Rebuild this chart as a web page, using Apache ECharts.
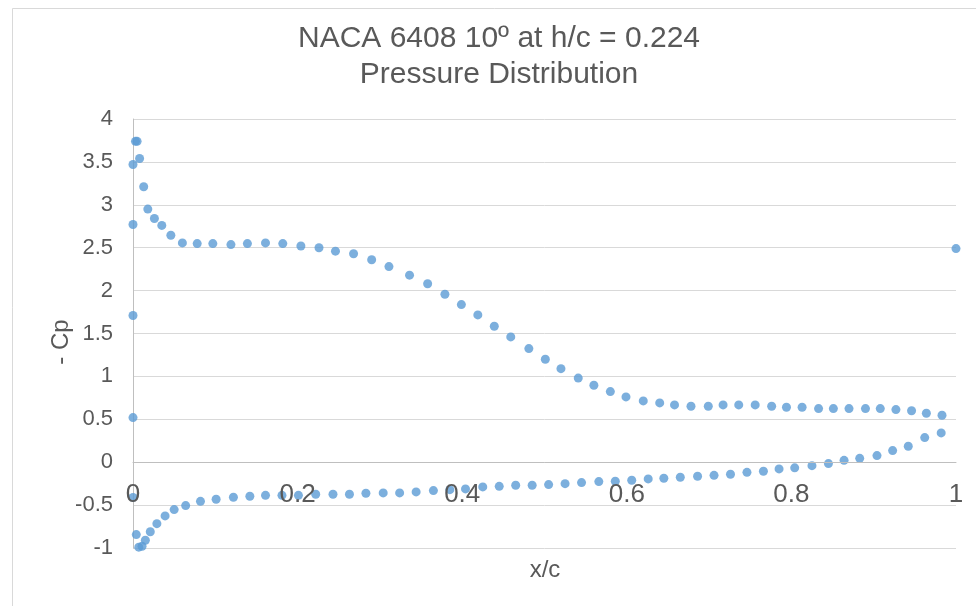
<!DOCTYPE html>
<html>
<head>
<meta charset="utf-8">
<script src="https://cdn.jsdelivr.net/npm/echarts@6/dist/echarts.min.js"></script>
<style>
html,body{margin:0;padding:0;background:#fff;}
#chart{width:976px;height:606px;}
</style>
</head>
<body>
<div id="chart"></div>
<script>
// Upper surface (suction side)
var xUpper = [0.003,0.005,0.008,0.013,0.018,0.026,0.035,0.046,0.060,0.078,0.097,0.119,0.139,0.161,0.182,0.204,0.226,0.246,0.268,0.290,0.311,0.336,0.358,0.379,0.399,0.419,0.439,0.459,0.481,0.501,0.520,0.541,0.560,0.580,0.599,0.620,0.640,0.658,0.678,0.699,0.717,0.736,0.756,0.776,0.794,0.813,0.833,0.851,0.870,0.890,0.908,0.927,0.946,0.964,0.983];
var cpUpper = [3.74,3.74,3.54,3.21,2.95,2.84,2.76,2.645,2.556,2.548,2.548,2.536,2.548,2.556,2.548,2.52,2.50,2.46,2.43,2.36,2.28,2.18,2.08,1.957,1.837,1.717,1.584,1.46,1.324,1.20,1.09,0.98,0.897,0.823,0.761,0.714,0.691,0.668,0.652,0.652,0.668,0.668,0.668,0.652,0.64,0.64,0.625,0.625,0.625,0.625,0.625,0.613,0.60,0.57,0.547];
// Lower surface (pressure side)
var xLower = [0.004,0.007,0.011,0.015,0.021,0.029,0.039,0.050,0.064,0.082,0.101,0.122,0.142,0.161,0.181,0.201,0.222,0.243,0.263,0.283,0.304,0.324,0.344,0.365,0.385,0.404,0.425,0.445,0.465,0.485,0.505,0.525,0.545,0.566,0.586,0.606,0.626,0.645,0.665,0.686,0.706,0.726,0.746,0.766,0.785,0.804,0.825,0.845,0.864,0.883,0.904,0.923,0.942,0.962,0.982];
var cpLower = [-0.844,-0.99,-0.98,-0.91,-0.81,-0.716,-0.626,-0.552,-0.506,-0.456,-0.432,-0.409,-0.397,-0.386,-0.386,-0.386,-0.374,-0.374,-0.374,-0.362,-0.358,-0.358,-0.346,-0.331,-0.32,-0.311,-0.288,-0.281,-0.269,-0.269,-0.261,-0.25,-0.238,-0.226,-0.222,-0.211,-0.195,-0.187,-0.176,-0.164,-0.153,-0.141,-0.118,-0.106,-0.078,-0.066,-0.040,-0.016,0.022,0.045,0.077,0.135,0.186,0.287,0.341];
// Points at the leading and trailing edges
var xEdge = [0,0,0,0,0,1];
var cpEdge = [3.47,2.77,1.71,0.52,-0.41,2.49];

var xTicks = [0,0.2,0.4,0.6,0.8,1];
var yTicks = [-1,-0.5,0,0.5,1,1.5,2,2.5,3,3.5,4];

var titleLine1 = 'NACA 6408 10º at h/c = 0.224';
var titleLine2 = 'Pressure Distribution';
var xName = 'x/c';
var yName = '- Cp';

function zip(xs, ys){ return xs.map(function(x,i){ return [x, ys[i]]; }); }
var points = zip(xEdge, cpEdge).concat(zip(xUpper, cpUpper), zip(xLower, cpLower));

var FONT = 'Liberation Sans, Arial, sans-serif';
var TXT = '#595959';
var GRID_TOP = 119, GRID_BOTTOM = 58, H = 606;
var plotH = H - GRID_TOP - GRID_BOTTOM;
var yMin = yTicks[0], yMax = yTicks[yTicks.length-1];
// x axis crosses at y = 0 (as in the reference), shift axis up by that distance
var zeroOffset = -plotH * (0 - yMin) / (yMax - yMin);

var chart = echarts.init(document.getElementById('chart'), null, {renderer:'canvas'});
chart.setOption({
  backgroundColor: '#fff',
  animation: false,
  grid: {left:133, right:20, top:GRID_TOP, bottom:GRID_BOTTOM, containLabel:false},
  xAxis: {
    type:'value', min:xTicks[0], max:xTicks[xTicks.length-1], interval:0.2, z:3,
    offset: zeroOffset,
    axisLine:{show:true, onZero:false, lineStyle:{color:'#bfbfbf', width:1}},
    axisTick:{show:false},
    splitLine:{show:false},
    axisLabel:{color:TXT, fontSize:26, fontFamily:FONT, margin:20,
      formatter:function(v){ return String(Math.round(v*10)/10); }}
  },
  yAxis: {
    type:'value', min:yMin, max:yMax, interval:0.5,
    axisLine:{show:true, onZero:false, lineStyle:{color:'#bfbfbf', width:1}},
    axisTick:{show:false},
    splitLine:{show:true, lineStyle:{color:'#d9d9d9', width:1}},
    axisLabel:{color:TXT, fontSize:22, fontFamily:FONT, margin:20}
  },
  series: [{
    type:'scatter', data: points, symbol:'circle', symbolSize:9,
    itemStyle:{color:'#5b9bd5'}
  }],
  graphic: [
    {type:'rect', left:10, top:6, shape:{width:1000, height:700}, silent:true, z:-10,
      style:{fill:'none', stroke:'#d9d9d9', lineWidth:1}},
    {type:'text', x:499, y:39, style:{text:titleLine1, fill:TXT, font:'30px ' + FONT, textAlign:'center', textVerticalAlign:'middle'}},
    {type:'text', x:499, y:75, style:{text:titleLine2, fill:TXT, font:'30px ' + FONT, textAlign:'center', textVerticalAlign:'middle'}},
    {type:'text', x:545, y:570, style:{text:xName, fill:TXT, font:'24px ' + FONT, textAlign:'center', textVerticalAlign:'middle'}},
    {type:'text', x:61, y:342, rotation:Math.PI/2, style:{text:yName, fill:TXT, font:'24px ' + FONT, textAlign:'center', textVerticalAlign:'middle'}}
  ]
});
</script>
</body>
</html>
